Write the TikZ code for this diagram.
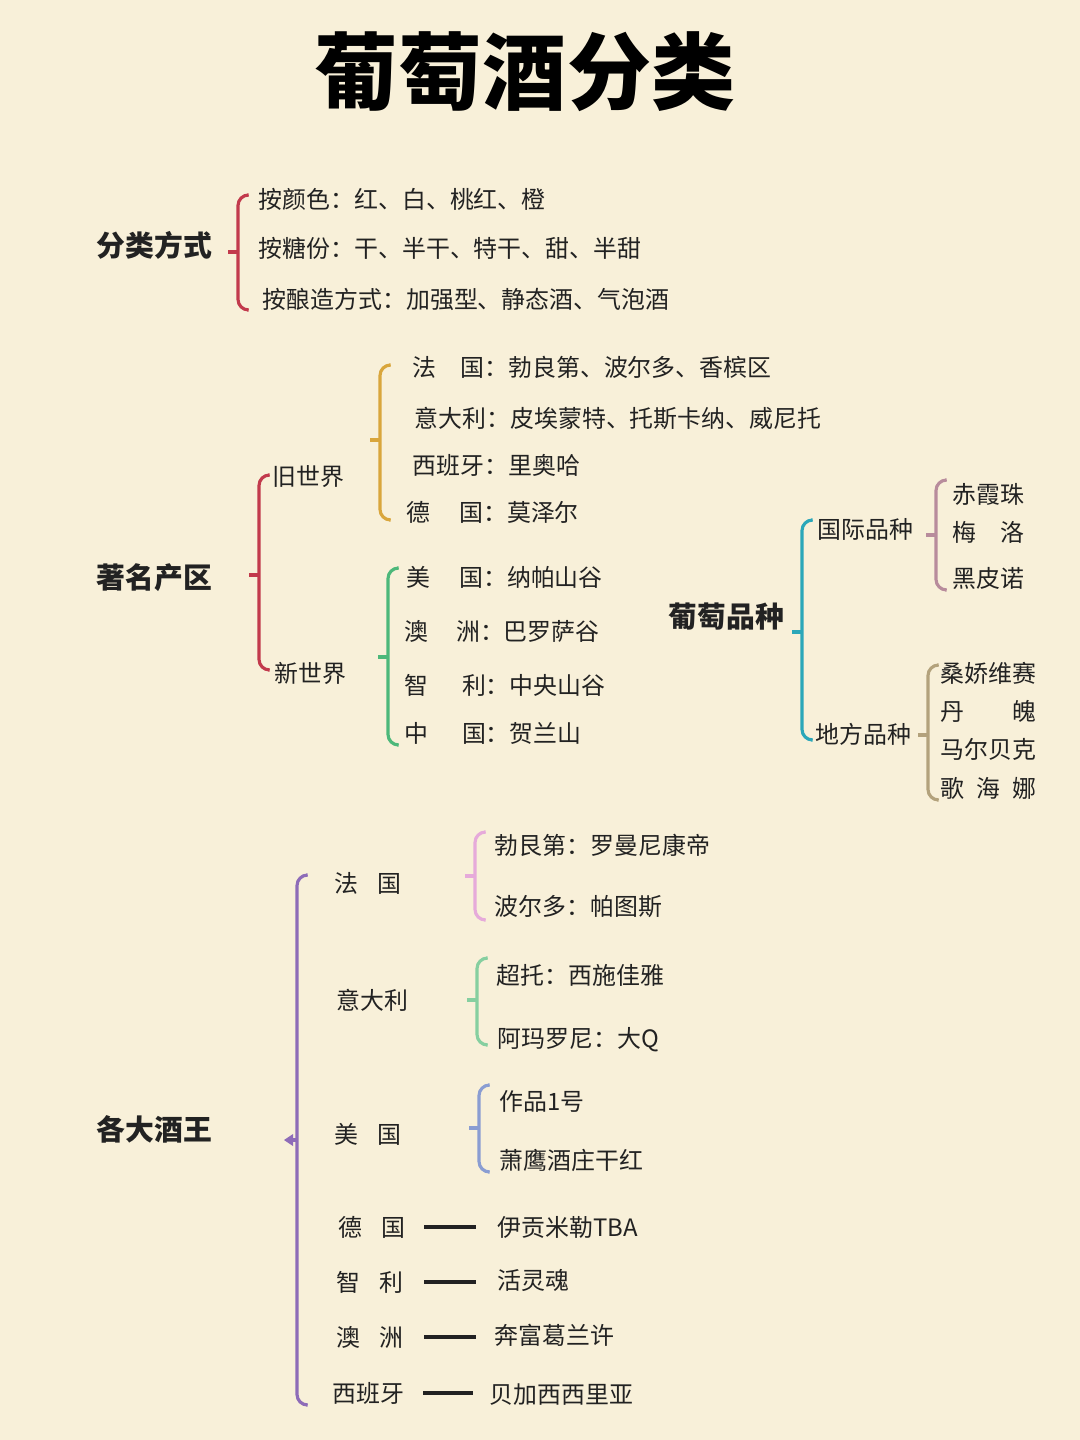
\documentclass[tikz,border=0pt]{standalone}
\usepackage{fontspec}
\setmainfont{Noto Sans CJK SC}
\usetikzlibrary{positioning}
\definecolor{bgcream}{HTML}{F8F0D9}
\definecolor{txtdark}{HTML}{222222}
\definecolor{cred}{HTML}{C23A4C}
\definecolor{corange}{HTML}{D9A63C}
\definecolor{cgreen}{HTML}{4DB87A}
\definecolor{cteal}{HTML}{2BA7B9}
\definecolor{cmauve}{HTML}{B88C9C}
\definecolor{ctan}{HTML}{B3A27C}
\definecolor{cpurple}{HTML}{8E6CB8}
\definecolor{cpink}{HTML}{E6AADA}
\definecolor{clgreen}{HTML}{86CFA0}
\definecolor{cblue}{HTML}{8A9DD2}

\tikzset{
  item/.style={anchor=west, inner sep=0pt, text=txtdark, font=\fontsize{6.8pt}{7pt}\selectfont},
  head/.style={anchor=west, inner sep=0pt, text=txtdark, font=\fontsize{8.2pt}{9pt}\selectfont\bfseries},
  dash line/.style={line width=1.3pt, draw=txtdark}
}
% bracket: colour, x, top y, bottom y, tick y
\newcommand{\brkt}[5]{%
  \draw[#1, line width=0.9pt, rounded corners=3pt] (#2+9,#3) -- (#2,#3) -- (#2,#4) -- (#2+9,#4);
  \draw[#1, line width=0.9pt] (#2,#5) -- (#2-10,#5);
}

\begin{document}
\begin{tikzpicture}[x=0.01cm, y=-0.01cm]
\fill[bgcream] (0,0) rectangle (1080,1440);
\useasboundingbox (0,0) rectangle (1080,1440);

% title
\node[text=black, font=\fontsize{23.9pt}{26pt}\selectfont\bfseries, inner sep=0pt] (title) at (525,72) {葡萄酒分类};

% classification
\node[head] (fenlei) at (96,245) {分类方式};
\brkt{cred}{238}{195}{310}{252}
\node[item] (yanse) at (258,199) {按颜色：红、白、桃红、橙};
\node[item] (tangfen) at (258,248) {按糖份：干、半干、特干、甜、半甜};
\node[item] (niangzao) at (262,299) {按酿造方式：加强型、静态酒、气泡酒};

% regions
\node[head] (chanqu) at (96,578) {著名产区};
\brkt{cred}{259}{475}{670}{575}
\node[item] (jiu) at (272,477) {旧世界};
\node[item] (xin) at (274,673) {新世界};
\brkt{corange}{380}{365}{520}{440}
\node[item] (faguo) at (412,367) {法\hspace{1em}国：勃良第、波尔多、香槟区};
\node[item] (yidali) at (414,418) {意大利：皮埃蒙特、托斯卡纳、威尼托};
\node[item] (xibanya) at (412,465) {西班牙：里奥哈};
\node[item] (deguo) at (406,512) {德\hspace{1.2em}国：莫泽尔};
\brkt{cgreen}{388}{568}{745}{657}
\node[item] (meiguo) at (406,577) {美\hspace{1.2em}国：纳帕山谷};
\node[item] (aozhou) at (404,631) {澳\hspace{1.15em}洲：巴罗萨谷};
\node[item] (zhili) at (404,685) {智\hspace{1.4em}利：中央山谷};
\node[item] (zhongguo) at (404,733) {中\hspace{1.4em}国：贺兰山};

% grape varieties
\node[head] (pinzhong) at (668,617) {葡萄品种};
\brkt{cteal}{802}{520}{740}{632}
\node[item] (guoji) at (817,529) {国际品种};
\node[item] (difang) at (815,734) {地方品种};
\brkt{cmauve}{936}{480}{590}{535}
\node[item] (chixia) at (952,494) {赤霞珠};
\node[item] (meiluo) at (952,532) {梅\hspace{1em}洛};
\node[item] (heipi) at (952,578) {黑皮诺};
\brkt{ctan}{928}{665}{800}{735}
\node[item] (sangjiao) at (940,673) {桑娇维赛};
\node[item] (danpo) at (940,711) {丹\hspace{2em}魄};
\node[item] (maer) at (940,749) {马尔贝克};
\node[item] (gehai) at (940,788) {歌\hspace{0.5em}海\hspace{0.5em}娜};

% wine kings
\node[head] (jiuwang) at (96,1129) {各大酒王};
\brkt{cpurple}{297}{875}{1405}{1140}
\fill[cpurple] (284,1140) -- (293,1134) -- (293,1146) -- cycle;
\node[item] (kfa) at (334,883) {法\hspace{0.8em}国};
\node[item] (kyi) at (336,1000) {意大利};
\node[item] (kmei) at (334,1134) {美\hspace{0.8em}国};
\node[item] (kde) at (338,1227) {德\hspace{0.8em}国};
\node[item] (kzhi) at (336,1282) {智\hspace{0.8em}利};
\node[item] (kao) at (336,1337) {澳\hspace{0.8em}洲};
\node[item] (kxi) at (332,1393) {西班牙};

\brkt{cpink}{475}{832}{920}{876}
\node[item] (luoman) at (494,845) {勃艮第：罗曼尼康帝};
\node[item] (patu) at (494,907) {波尔多：帕图斯};
\brkt{clgreen}{477}{958}{1045}{1000}
\node[item] (xishi) at (496,975) {超托：西施佳雅};
\node[item] (daq) at (497,1040) {阿玛罗尼：大Q};
\brkt{cblue}{479}{1085}{1172}{1128}
\node[item] (zuopin) at (499,1101) {作品1号};
\node[item] (xiaoying) at (499,1160) {萧鹰酒庄干红};

\node[item] (yigong) at (497,1227) {伊贡米勒TBA};
\node[item] (huoling) at (497,1280) {活灵魂};
\node[item] (benfu) at (494,1335) {奔富葛兰许};
\node[item] (beijia) at (489,1395) {贝加西西里亚};
\draw[dash line] ([xshift=0.18cm]kde.east) -- ([xshift=-0.21cm]kde.east -| yigong.west);
\draw[dash line] ([xshift=0.2cm]kzhi.east) -- ([xshift=-0.21cm]kzhi.east -| huoling.west);
\draw[dash line] ([xshift=0.2cm]kao.east) -- ([xshift=-0.18cm]kao.east -| benfu.west);
\draw[dash line] ([xshift=0.18cm]kxi.east) -- ([xshift=-0.16cm]kxi.east -| beijia.west);
\end{tikzpicture}
\end{document}
